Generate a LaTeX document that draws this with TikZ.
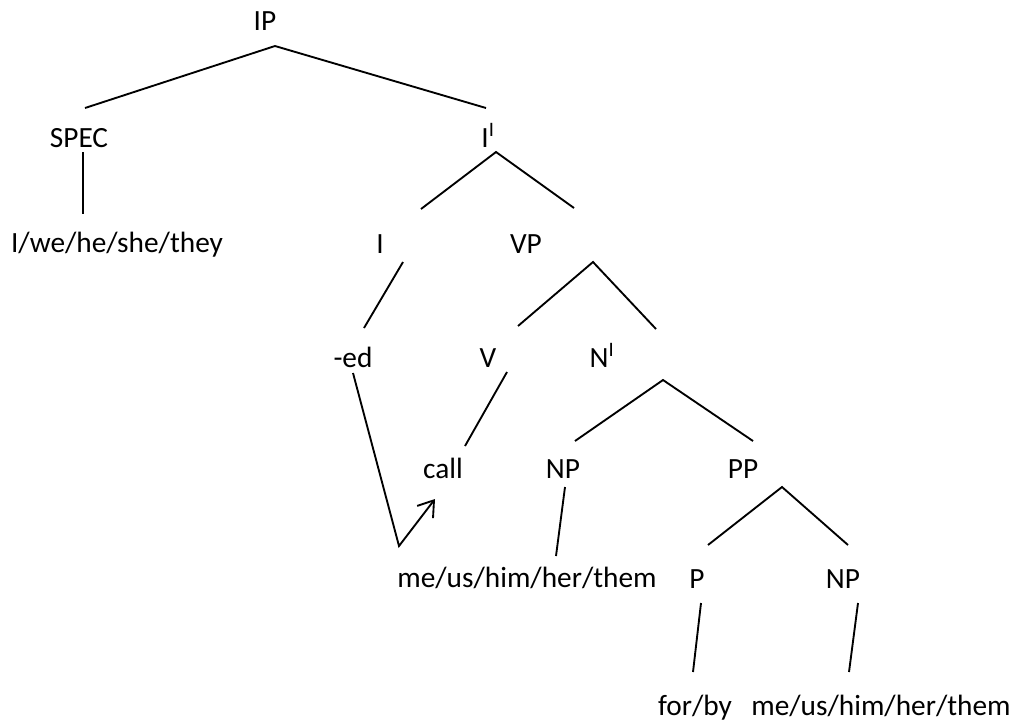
\documentclass[tikz,border=0pt]{standalone}
\usepackage{fontspec}
\setmainfont{Carlito}
\usetikzlibrary{arrows.meta}

\begin{document}
\begin{tikzpicture}[x=0.75pt,y=-0.75pt,
  lbl/.style={anchor=base,inner sep=0pt,font=\fontsize{22}{26}\selectfont},
  edge/.style={line width=1.4pt},
  mv/.style={line width=1.4pt,-{Straight Barb[length=11pt,width=15pt]}}]
  \useasboundingbox (0,0) rectangle (1016,722);
  % category labels
  \node[lbl] (ip)    at (265,30)  {IP};
  \node[lbl] (spec)  at (79,147)  {SPEC};
  \node[lbl] (ibar)  at (488,147) {I\textsuperscript{I}};
  \node[lbl] (pron)  at (117,252) {I/we/he/she/they};
  \node[lbl] (infl)  at (380,253) {I};
  \node[lbl] (vp)    at (526,253) {VP};
  \node[lbl] (ed)    at (353,367) {-ed};
  \node[lbl] (verb)  at (488,367) {V};
  \node[lbl] (nbar)  at (602,367) {N\textsuperscript{I}};
  \node[lbl] (call)  at (443,478) {call};
  \node[lbl] (np)    at (563,478) {NP};
  \node[lbl] (pp)    at (743,478) {PP};
  \node[lbl] (obj)   at (527,587) {me/us/him/her/them};
  \node[lbl] (prep)  at (697,588) {P};
  \node[lbl] (npp)   at (843,588) {NP};
  \node[lbl] (forby) at (695,715) {for/by};
  \node[lbl] (objp)  at (881,715) {me/us/him/her/them};
  % attachment points above and below the labels
  \coordinate (ip-b)    at (275,46);
  \coordinate (spec-t)  at (85,108);
  \coordinate (ibar-t)  at (486,108);
  \coordinate (spec-b)  at (83,152);
  \coordinate (pron-t)  at (83,214);
  \coordinate (ibar-b)  at (496,152);
  \coordinate (infl-t)  at (421,209);
  \coordinate (vp-t)    at (574,208);
  \coordinate (infl-b)  at (403,262);
  \coordinate (ed-t)    at (364,328);
  \coordinate (vp-b)    at (593,262);
  \coordinate (verb-t)  at (518,326);
  \coordinate (nbar-t)  at (656,329);
  \coordinate (verb-b)  at (507,372);
  \coordinate (call-t)  at (465,446);
  \coordinate (nbar-b)  at (663,380);
  \coordinate (np-t)    at (575,441);
  \coordinate (pp-t)    at (753,441);
  \coordinate (np-b)    at (565,487);
  \coordinate (obj-t)   at (556,556);
  \coordinate (pp-b)    at (782,487);
  \coordinate (prep-t)  at (708,545);
  \coordinate (npp-t)   at (848,545);
  \coordinate (prep-b)  at (701,603);
  \coordinate (forby-t) at (693,672);
  \coordinate (npp-b)   at (858,603);
  \coordinate (objp-t)  at (849,672);
  \coordinate (ed-b)    at (353,373);
  \coordinate (trace)   at (399,546);
  \coordinate (call-s)  at (435,499);
  % branches
  \draw[edge] (spec-t) -- (ip-b) -- (ibar-t);
  \draw[edge] (spec-b) -- (pron-t);
  \draw[edge] (infl-t) -- (ibar-b) -- (vp-t);
  \draw[edge] (infl-b) -- (ed-t);
  \draw[edge] (verb-t) -- (vp-b) -- (nbar-t);
  \draw[edge] (verb-b) -- (call-t);
  \draw[edge] (np-t) -- (nbar-b) -- (pp-t);
  \draw[edge] (np-b) -- (obj-t);
  \draw[edge] (prep-t) -- (pp-b) -- (npp-t);
  \draw[edge] (prep-b) -- (forby-t);
  \draw[edge] (npp-b) -- (objp-t);
  % affix movement
  \draw[mv] (ed-b) -- (trace) -- (call-s);
\end{tikzpicture}
\end{document}
